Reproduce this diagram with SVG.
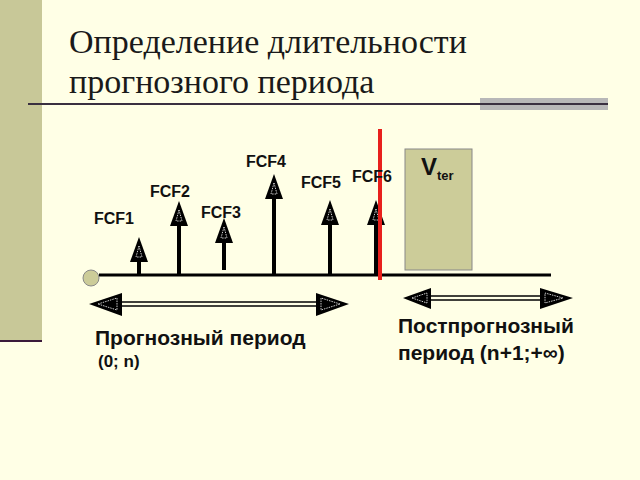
<svg xmlns="http://www.w3.org/2000/svg" width="640" height="480" viewBox="0 0 640 480">
<defs>
<style>
.lbl{font-family:"Liberation Sans",Arial,sans-serif;font-weight:bold;font-size:16px;fill:#111}
.big{font-family:"Liberation Sans",Arial,sans-serif;font-weight:bold;font-size:21px;fill:#111}
.title{font-family:"Liberation Serif","Times New Roman",serif;font-size:34px;fill:#1a1a1a}
.stem{stroke:#000;stroke-width:4}
.head{fill:#000}
.inner{fill:none;stroke:#fff;stroke-width:0.8;stroke-dasharray:1.5 1}
</style>
<g id="uparrow">
<polygon class="head" points="0,0 -9,25 9,25"/>
<polygon class="inner" points="0,9 -3,20 3,20"/>
</g>
</defs>
<rect width="640" height="480" fill="#FFFFE6"/>
<rect x="0" y="0" width="42" height="341" fill="#C8C898"/>
<line x1="0" y1="341" x2="42" y2="341" stroke="#3a1a3a" stroke-width="2"/>
<text class="title" x="69" y="53">Определение длительности</text>
<text class="title" x="69" y="93">прогнозного периода</text>
<rect x="480" y="98" width="128" height="12" fill="#B8B8B8"/>
<line x1="28" y1="104" x2="608" y2="104" stroke="#3a3040" stroke-width="2"/>

<g id="connectors">
<line x1="99" y1="275" x2="551" y2="275" stroke="#000" stroke-width="3"/>
<line class="stem" x1="139" y1="275" x2="139" y2="255"/>
<line class="stem" x1="179" y1="275" x2="179" y2="220"/>
<line class="stem" x1="224" y1="270" x2="224" y2="235"/>
<line class="stem" x1="274" y1="275" x2="274" y2="195"/>
<line class="stem" x1="330" y1="275" x2="330" y2="220"/>
<line class="stem" x1="376" y1="275" x2="376" y2="220"/>
<use href="#uparrow" x="139" y="237"/>
<use href="#uparrow" x="179" y="201"/>
<use href="#uparrow" x="224" y="218"/>
<use href="#uparrow" x="274" y="174"/>
<use href="#uparrow" x="330" y="200"/>
<use href="#uparrow" x="376" y="200"/>
<line x1="380" y1="129" x2="380" y2="280" stroke="#E8201C" stroke-width="4"/>
<line x1="118" y1="302" x2="320" y2="302" stroke="#000" stroke-width="1.5"/>
<line x1="118" y1="306" x2="320" y2="306" stroke="#000" stroke-width="1.5"/>
<polygon class="head" points="89,304 122,293 122,316"/>
<polygon class="inner" points="98,304 117,298 117,310"/>
<polygon class="head" points="349,304 316,293 316,316"/>
<polygon class="inner" points="340,304 321,298 321,310"/>
<line x1="426" y1="296" x2="544" y2="296" stroke="#000" stroke-width="1.5"/>
<line x1="426" y1="300" x2="544" y2="300" stroke="#000" stroke-width="1.5"/>
<polygon class="head" points="403,298 431,288 431,309"/>
<polygon class="inner" points="412,298 427,293 427,303"/>
<polygon class="head" points="573,298 540,288 540,309"/>
<polygon class="inner" points="563,298 545,293 545,303"/>
</g>

<g id="origin"><circle cx="91" cy="278" r="8" fill="#CCCC99" stroke="#888" stroke-width="1"/></g>
<g id="fcf1"><text class="lbl" x="94" y="224">FCF1</text></g>
<g id="fcf2"><text class="lbl" x="150" y="197">FCF2</text></g>
<g id="fcf3"><text class="lbl" x="201" y="218">FCF3</text></g>
<g id="fcf4"><text class="lbl" x="246" y="167">FCF4</text></g>
<g id="fcf5"><text class="lbl" x="301" y="188">FCF5</text></g>
<g id="fcf6"><text class="lbl" x="352" y="182">FCF6</text></g>
<g id="vter">
<rect x="405" y="149" width="67" height="121" fill="#CCCC99" stroke="#888" stroke-width="1"/>
<text class="big" x="421" y="175" style="font-size:24px">V<tspan style="font-size:13px" dy="5">ter</tspan></text>
</g>
<g id="forecast">
<text class="big" x="95" y="345">Прогнозный период</text>
<text class="lbl" x="98" y="367" style="font-size:17px">(0; n)</text>
</g>
<g id="postforecast">
<text class="big" x="398" y="333">Постпрогнозный</text>
<text class="big" x="398" y="360">период (n+1;+∞)</text>
</g>
</svg>
